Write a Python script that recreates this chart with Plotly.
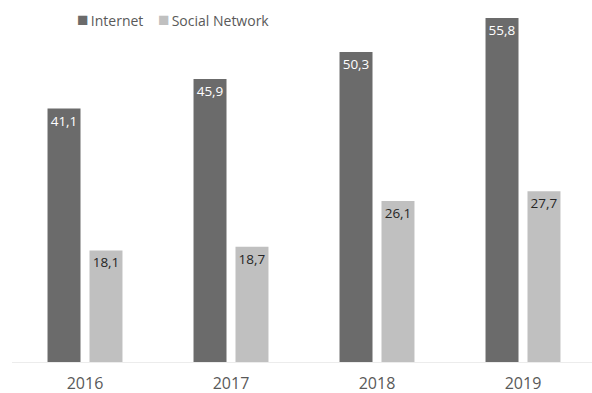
import plotly.graph_objects as go

years = ["2016", "2017", "2018", "2019"]
series_names = ["Internet", "Social Network"]
internet = [41.1, 45.9, 50.3, 55.8]
social = [18.1, 18.7, 26.1, 27.7]

dark = "#6b6b6b"
light = "#c0c0c0"
font_family = "Open Sans, Noto Sans, sans-serif"

fig = go.Figure()
fig.add_trace(go.Bar(
    x=years, y=internet, name=series_names[0], marker=dict(color=dark, line=dict(width=0)),
    texttemplate="%{y:.1f}", textposition="inside", insidetextanchor="end",
    textfont=dict(color="white", size=13.5, family=font_family), constraintext="none",
))
fig.add_trace(go.Bar(
    x=years, y=social, name=series_names[1], marker=dict(color=light, line=dict(width=0)),
    texttemplate="%{y:.1f}", textposition="inside", insidetextanchor="end",
    textfont=dict(color="#262626", size=13.5, family=font_family), constraintext="none",
))

legend_text = (
    f"<span style='color:{dark};font-size:19px'>■</span>\u2009{series_names[0]}"
    f"    <span style='color:{light};font-size:19px'>■</span>\u2009{series_names[1]}"
)

fig.update_layout(
    width=592, height=393,
    margin=dict(l=12, r=0, t=0, b=31),
    paper_bgcolor="white", plot_bgcolor="white",
    barmode="group", bargap=0.425, bargroupgap=0.214,
    separators=", ",
    showlegend=False,
    font=dict(family=font_family, color="#595959"),
    xaxis=dict(range=[-0.5, -0.5 + 580 / 146], showgrid=False, showline=True,
               linecolor="#ececec", linewidth=1, ticks="", ticklabelstandoff=7,
               automargin=False, tickfont=dict(size=16, color="#595959")),
    yaxis=dict(range=[0, 58.72], visible=False, automargin=False),
    annotations=[dict(text=legend_text, xref="paper", yref="paper",
                      x=(75 - 12) / 580, y=(362 - 19) / 362, xanchor="left", yanchor="middle",
                      showarrow=False, font=dict(size=14, color="#595959", family=font_family))],
)

fig.write_html("out.html")
